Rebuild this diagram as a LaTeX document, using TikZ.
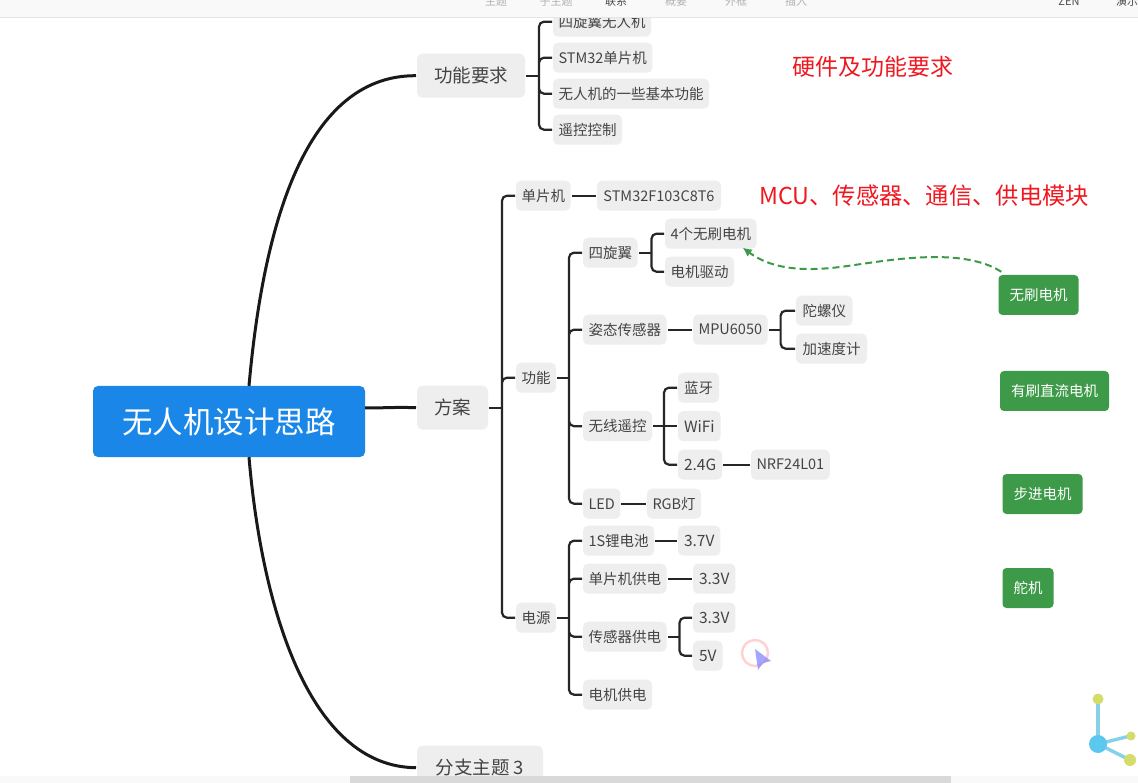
\documentclass[tikz,border=0pt]{standalone}
\usepackage{fontspec}
\setmainfont{Noto Sans CJK SC}
\usetikzlibrary{arrows.meta}
\definecolor{boxgray}{HTML}{EEEEEE}
\definecolor{textgray}{HTML}{444444}
\definecolor{rootblue}{HTML}{1A87E8}
\definecolor{motorgreen}{HTML}{3D9A48}
\definecolor{hintred}{HTML}{F01820}
\definecolor{logoblue}{HTML}{5CC8F0}
\definecolor{logostem}{HTML}{86D0E8}
\definecolor{logotip}{HTML}{D4DC6A}
\tikzset{
 topic/.style={fill=boxgray,text=textgray,rounded corners=5pt,anchor=west,minimum height=30pt,inner xsep=5.5pt,inner ysep=0pt,outer sep=1pt,yshift=-0.7pt,font=\fontsize{14.5}{16}\selectfont},
 numtopic/.style={topic,inner xsep=6pt,font=\fontsize{15.5}{17}\selectfont},
 maintopic/.style={topic,yshift=0pt,minimum height=44pt,inner xsep=17pt,rounded corners=6pt,font=\fontsize{18.5}{20}\selectfont},
 motor/.style={fill=motorgreen,text=white,rounded corners=4pt,minimum height=40pt,inner xsep=11pt,inner ysep=0pt,font=\fontsize{14.5}{16}\selectfont},
 hint/.style={text=hintred,anchor=west,inner sep=0pt},
 menu/.style={text=gray!60,inner sep=0pt,font=\fontsize{11}{12}\selectfont},
 branch/.style={black!85,line width=2.2pt,rounded corners=5pt},
 mainbranch/.style={black!90,line width=3pt},
}
\begin{document}
\begin{tikzpicture}[x=1pt,y=-1pt]
\useasboundingbox (0,0) rectangle (1138,783);
\fill[white] (0,0) rectangle (1138,783);

% main topics
\node[fill=rootblue,text=white,rounded corners=5pt,minimum width=272pt,minimum height=71pt,inner sep=0pt,font=\fontsize{30.5}{32}\selectfont] (root) at (229,421.5) {无人机设计思路};
\node[maintopic] (req) at (416,75) {功能要求};
\node[maintopic] (plan) at (416,407) {方案};
\node[maintopic,minimum width=126pt] (branch3) at (416,767) {分支主题 3};

\draw[mainbranch] (root.north) ++(20,0) .. controls (262,240) and (300,75) .. (req.west);
\draw[mainbranch] ([yshift=13.5pt]root.east) .. controls (385,408) and (395,407) .. (plan.west);
\draw[mainbranch] (root.south) ++(20,0) .. controls (262,610) and (310,767) .. (branch3.west);

% requirements
\node[topic] (quad) at (552,21) {四旋翼无人机};
\node[topic] (stm) at (552,57) {STM32单片机};
\node[topic] (basic) at (552,93) {无人机的一些基本功能};
\node[topic] (remote) at (552,129) {遥控控制};
\draw[branch] (req.east) -- ++(13,0) coordinate (reqtrunk);
\draw[branch] (reqtrunk) |- (quad.west) (reqtrunk) |- (stm.west) (reqtrunk) |- (basic.west) (reqtrunk) |- (remote.west);

% plan
\node[topic] (mcu) at (515,195) {单片机};
\node[topic] (func) at (515,377) {功能};
\node[topic] (power) at (515,617) {电源};
\node[topic,minimum width=124pt] (mcuname) at (596,195) {STM32F103C8T6};
\draw[branch] (plan.east) -- ++(13,0) coordinate (plantrunk);
\draw[branch] (plantrunk) |- (mcu.west) (plantrunk) |- (func.west) (plantrunk) |- (power.west);
\draw[branch] (mcu.east) -- (mcuname.west);

% functions
\node[topic] (rotor) at (582,252) {四旋翼};
\node[topic] (attitude) at (582,329) {姿态传感器};
\node[topic] (wireless) at (582,425.5) {无线遥控};
\node[topic] (led) at (582,503) {LED};
\draw[branch] (func.east) -- ++(12,0) coordinate (functrunk);
\draw[branch] (functrunk) |- (rotor.west) (functrunk) |- (attitude.west) (functrunk) |- (wireless.west) (functrunk) |- (led.west);

\node[topic] (brushless) at (664,233) {4个无刷电机};
\node[topic] (driver) at (664,271) {电机驱动};
\draw[branch] (rotor.east) -- ++(13,0) coordinate (rotortrunk);
\draw[branch] (rotortrunk) |- (brushless.west) (rotortrunk) |- (driver.west);

\node[topic] (mpu) at (692,329) {MPU6050};
\node[topic,inner xsep=6.5pt] (gyro) at (795,310) {陀螺仪};
\node[topic,inner xsep=6.5pt] (accel) at (795,348) {加速度计};
\draw[branch] (attitude.east) -- (mpu.west);
\draw[branch] (mpu.east) -- ++(12,0) coordinate (mputrunk);
\draw[branch] (mputrunk) |- (gyro.west) (mputrunk) |- (accel.west);

\node[topic,inner xsep=6pt] (bluetooth) at (677,387) {蓝牙};
\node[numtopic] (wifi) at (677,425.5) {WiFi};
\node[numtopic] (ghz) at (677,464) {2.4G};
\node[topic] (nrf) at (750,464) {NRF24L01};
\draw[branch] (wireless.east) -- ++(11,0) coordinate (wirelesstrunk);
\draw[branch] (wirelesstrunk) |- (bluetooth.west) (wirelesstrunk) |- (ghz.west);
\draw[branch] (wirelesstrunk) -- (wifi.west);
\draw[branch] (ghz.east) -- (nrf.west);

\node[topic] (rgb) at (646,503) {RGB灯};
\draw[branch] (led.east) -- (rgb.west);

% power
\node[topic] (battery) at (582,540) {1S锂电池};
\node[topic] (mcupower) at (582,578) {单片机供电};
\node[topic] (sensorpower) at (582,636) {传感器供电};
\node[topic] (motorpower) at (582,694) {电机供电};
\draw[branch] (power.east) -- ++(12,0) coordinate (powertrunk);
\draw[branch] (powertrunk) |- (battery.west) (powertrunk) |- (mcupower.west) (powertrunk) |- (sensorpower.west) (powertrunk) |- (motorpower.west);

\node[numtopic] (volta) at (677,540) {3.7V};
\node[numtopic] (voltb) at (692,578) {3.3V};
\node[numtopic] (voltc) at (692,617) {3.3V};
\node[numtopic] (voltd) at (692,655) {5V};
\draw[branch] (battery.east) -- (volta.west);
\draw[branch] (mcupower.east) -- (voltb.west);
\draw[branch] (sensorpower.east) -- ++(12,0) coordinate (sensortrunk);
\draw[branch] (sensortrunk) |- (voltc.west) (sensortrunk) |- (voltd.west);

% motor types and notes
\node[motor] (nobrush) at (1038.5,295) {无刷电机};
\node[motor] (dcmotor) at (1054.5,391) {有刷直流电机};
\node[motor] (stepper) at (1042.5,494) {步进电机};
\node[motor] (servo) at (1028,588) {舵机};
\draw[motorgreen,line width=2pt,dash pattern=on 7pt off 4pt,-{Latex[length=9pt,width=9pt]}] (nobrush.north west) ++(3,-3) .. controls (960,245) and (880,262) .. (840,267) .. controls (800,272) and (770,268) .. ([xshift=32pt,yshift=2pt]brushless.south);

\node[hint,font=\fontsize{23}{25}\selectfont] (hinthw) at (792,67) {硬件及功能要求};
\node[hint,font=\fontsize{23.3}{25}\selectfont] (hintmod) at (759,196) {MCU、传感器、通信、供电模块};

% cursor
\draw[red!40,line width=2.4pt,opacity=0.45] (755,653) circle [radius=13];
\fill[blue!50!white,opacity=0.7] (755,649) -- (771,661) -- (763,663) -- (758,670) -- cycle;

% logo
\draw[logostem,line width=3.4pt] (1098,744) -- (1098,699);
\draw[logostem,line width=3.4pt] (1098,744) -- (1130,736);
\draw[logostem,line width=3.4pt] (1098,744) -- (1130,760);
\fill[logoblue] (1098,744) circle [radius=9];
\fill[logotip] (1098,699) circle [radius=5.5];
\fill[logotip] (1131,736) circle [radius=4.5];
\fill[logotip] (1130,760) circle [radius=6];

% window bars
\fill[gray!5] (0,0) rectangle (1138,17);
\draw[gray!20] (0,17) -- (1138,17);
\node[menu] (menua) at (496,1) {主题};
\node[menu] (menub) at (556,1) {子主题};
\node[menu,text=black!70] (menuc) at (616,1) {联系};
\node[menu] (menud) at (676,1) {概要};
\node[menu] (menue) at (736,1) {外框};
\node[menu] (menuf) at (796,1) {插入};
\node[menu,text=black!70] (menug) at (1069,1) {ZEN};
\node[menu,text=black!70] (menuh) at (1127,1) {演示};
\fill[gray!5] (0,776) rectangle (1138,783);
\fill[gray!30] (350,776) rectangle (951,783);

\end{tikzpicture}
\end{document}
